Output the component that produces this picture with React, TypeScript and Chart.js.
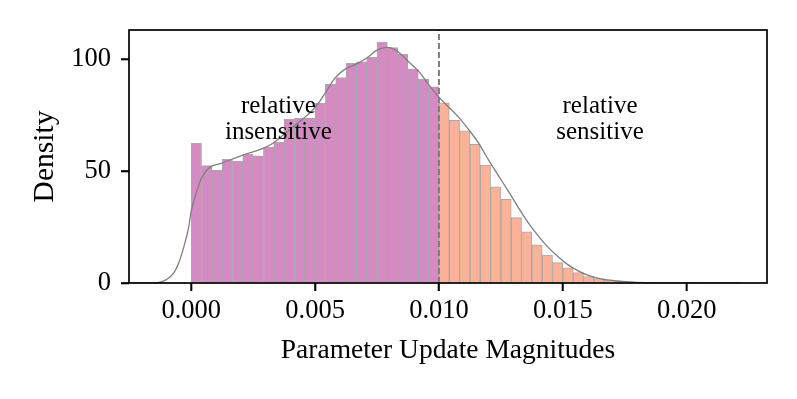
import React, { useEffect, useRef } from "react";
import { Chart, registerables } from "chart.js";

Chart.register(...registerables);

// ---- data ----
const BIN_WIDTH = 0.01 / 24;
const DENSITY = [
  62.4, 52.4, 50.3, 55.2, 54.3, 57.6, 56.8, 60.6, 62.8, 73.1,
  73.5, 73.5, 80.2, 88.7, 91.8, 98.1, 98.8, 100.8, 107.6, 105.2,
  102.1, 95.5, 91.1, 87.6, 80.5, 72.6, 68.0, 61.9, 52.7, 43.0,
  37.4, 29.2, 22.9, 17.0, 12.5, 9.1, 6.8, 4.6, 2.9, 2.0,
  1.3, 0.8, 0.5, 0.3, 0.2, 0.1, 0.06, 0.04, 0.02, 0.01,
];
const SPLIT = 0.01;

const KDE_X = [
  -0.0025, -0.0016, -0.0013, -0.001, -0.0007, -0.0005, -0.0003, -0.0001, 0.0,
  0.0002, 0.0004, 0.0006, 0.0008, 0.0012, 0.002, 0.0029, 0.0033, 0.0037,
  0.0042, 0.0046, 0.005, 0.0054, 0.0058, 0.0062, 0.0067, 0.0071, 0.0075,
  0.0079, 0.0083, 0.0087, 0.0092, 0.0096, 0.01, 0.0104, 0.0108, 0.0112,
  0.0116, 0.012, 0.0124, 0.0128, 0.0132, 0.0136, 0.014, 0.0144, 0.0148,
  0.0152, 0.0156, 0.016, 0.0164, 0.0168, 0.0172, 0.0177, 0.0183, 0.019,
  0.02, 0.0222,
];
const KDE_Y = [
  0, 0, 0.3, 1.5, 4.5, 9, 16, 25, 32,
  40, 46.5, 50, 52, 53.4, 56.8, 60.1, 62.4, 66,
  70.5, 74.2, 78.4, 84.7, 91.5, 95.4, 98, 100.6, 104,
  105.2, 103.7, 99.6, 94.3, 88.4, 83, 78.5, 74, 68.5,
  62.5, 55, 48, 41, 33.8, 27, 21.2, 16, 11.8,
  8.2, 5.5, 3.5, 2.2, 1.4, 0.9, 0.5, 0.2, 0.05,
  0, 0,
];

const X_TICKS = [0, 0.005, 0.01, 0.015, 0.02];
const Y_TICKS = [0, 50, 100];
const X_MIN = -0.00251;
const X_MAX = 0.02324;
const Y_MIN = 0;
const Y_MAX = 113;

const REGION_LABELS = [
  { lines: ["relative", "insensitive"], x: 0.00352, y: 75.9 },
  { lines: ["relative", "sensitive"], x: 0.0165, y: 75.9 },
];

// ---- styles ----
const FONT = "'Liberation Serif', 'Times New Roman', serif";
const PINK = "#D48BC3";
const SALMON = "#FBB298";
const EDGE = "rgba(160,160,160,0.9)";
const GREY = "#7f7f7f";
const TICK_LEN = 8;

const overlayPlugin = {
  id: "overlay",
  afterDatasetsDraw(chart: any) {
    const { ctx, scales } = chart;
    ctx.save();
    ctx.fillStyle = "#000";
    ctx.font = `25px ${FONT}`;
    ctx.textAlign = "center";
    ctx.textBaseline = "alphabetic";
    for (const lab of REGION_LABELS) {
      const px = scales.x.getPixelForValue(lab.x);
      const py = scales.y.getPixelForValue(lab.y);
      lab.lines.forEach((t, i) => ctx.fillText(t, px, py + i * 26));
    }
    ctx.restore();
  },
  afterDraw(chart: any) {
    const { ctx, chartArea, scales } = chart;
    ctx.save();
    ctx.strokeStyle = "#000";
    ctx.lineWidth = 1.6;
    for (const v of X_TICKS) {
      const px = scales.x.getPixelForValue(v);
      ctx.beginPath();
      ctx.moveTo(px, chartArea.bottom);
      ctx.lineTo(px, chartArea.bottom + TICK_LEN);
      ctx.stroke();
    }
    for (const v of Y_TICKS) {
      const py = scales.y.getPixelForValue(v);
      ctx.beginPath();
      ctx.moveTo(chartArea.left, py);
      ctx.lineTo(chartArea.left - TICK_LEN, py);
      ctx.stroke();
    }
    ctx.lineWidth = 1.7;
    ctx.strokeRect(
      chartArea.left,
      chartArea.top,
      chartArea.right - chartArea.left,
      chartArea.bottom - chartArea.top
    );
    ctx.restore();
  },
};

const tickGrid = {
  display: true,
  offset: false,
  drawOnChartArea: false,
  drawTicks: true,
  tickLength: TICK_LEN,
  tickColor: "#000",
  tickWidth: 1.6,
  color: "rgba(0,0,0,0)",
};

export default function App() {
  const ref = useRef<HTMLCanvasElement>(null);

  useEffect(() => {
    if (!ref.current) return;
    const bars = DENSITY.map((v, i) => ({ x: (i + 0.5) * BIN_WIDTH, y: v }));
    const barColors = bars.map((b) => (b.x < SPLIT ? PINK : SALMON));
    const kde = KDE_X.map((x, i) => ({ x, y: KDE_Y[i] }));
    const vline = [
      { x: SPLIT, y: Y_MIN },
      { x: SPLIT, y: Y_MAX },
    ];

    const chart = new Chart(ref.current, {
      type: "bar",
      data: {
        datasets: [
          {
            type: "line",
            data: vline,
            borderColor: GREY,
            borderWidth: 2,
            borderDash: [6, 3],
            pointRadius: 0,
            order: 0,
          } as any,
          {
            type: "line",
            data: kde,
            borderColor: GREY,
            borderWidth: 1.3,
            pointRadius: 0,
            cubicInterpolationMode: "monotone",
            order: 1,
          } as any,
          {
            type: "bar",
            data: bars,
            backgroundColor: barColors,
            borderColor: EDGE,
            borderWidth: 1,
            barPercentage: 1,
            categoryPercentage: 1,
            order: 2,
          } as any,
        ],
      },
      options: {
        animation: false,
        responsive: false,
        layout: { padding: { left: 0, top: 30, right: 30, bottom: 0 } },
        plugins: {
          legend: { display: false },
          tooltip: { enabled: false },
        },
        scales: {
          x: {
            type: "linear",
            min: X_MIN,
            max: X_MAX,
            offset: false,
            afterBuildTicks: (s: any) => {
              s.ticks = X_TICKS.map((v) => ({ value: v }));
            },
            afterFit: (s: any) => {
              s.height = 116;
            },
            ticks: {
              color: "#000",
              font: { family: FONT, size: 26.5 },
              padding: 4,
              maxRotation: 0,
              autoSkip: false,
              callback: (v: any) => Number(v).toFixed(3),
            },
            grid: tickGrid,
            border: { display: false },
            title: {
              display: true,
              text: "Parameter Update Magnitudes",
              color: "#000",
              font: { family: FONT, size: 27.5 },
              padding: { top: 0, bottom: 32 },
            },
          },
          y: {
            type: "linear",
            min: Y_MIN,
            max: Y_MAX,
            afterBuildTicks: (s: any) => {
              s.ticks = Y_TICKS.map((v) => ({ value: v }));
            },
            afterFit: (s: any) => {
              s.width = 129;
            },
            ticks: {
              color: "#000",
              font: { family: FONT, size: 26.5 },
              padding: 10,
              autoSkip: false,
            },
            grid: tickGrid,
            border: { display: false },
            title: {
              display: true,
              text: "Density",
              color: "#000",
              font: { family: FONT, size: 29.5 },
              padding: { top: 28, bottom: 0 },
            },
          },
        },
      },
      plugins: [overlayPlugin],
    });
    return () => chart.destroy();
  }, []);

  return (
    <div style={{ position: "absolute", left: 0, top: 0, width: 797, height: 399, background: "#fff" }}>
      <canvas ref={ref} width={797} height={399} style={{ display: "block" }} />
    </div>
  );
}
